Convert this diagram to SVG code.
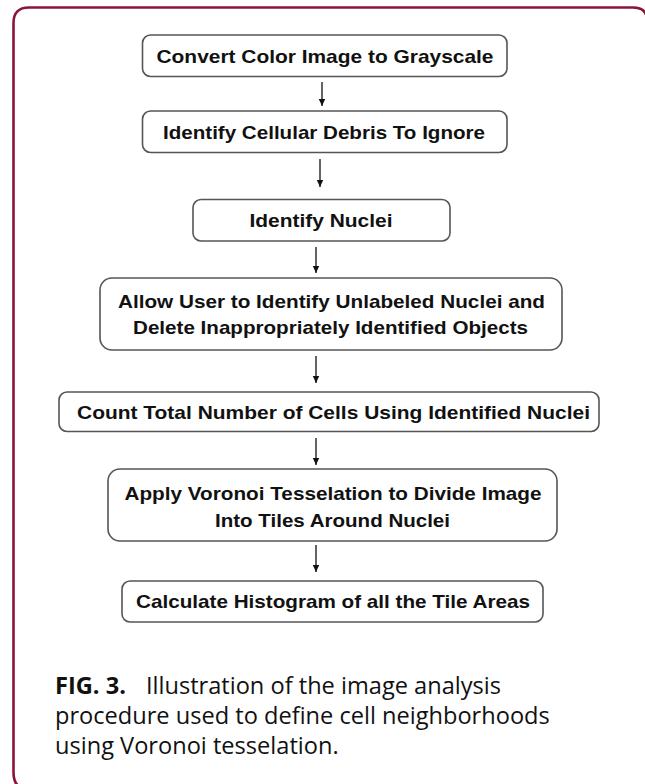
<svg xmlns="http://www.w3.org/2000/svg" width="645" height="784" viewBox="0 0 645 784">
  <defs>
    <marker id="head" markerWidth="8" markerHeight="8" refX="7" refY="4" orient="auto" markerUnits="userSpaceOnUse">
      <path d="M0,0.8 L7,4 L0,7.2 Z" fill="#111"/>
    </marker>
  </defs>
  <style>
    .box { fill: #fff; stroke: #555; stroke-width: 1.6; }
    .lbl { font-family: "Liberation Sans", Arial, sans-serif; font-weight: bold; font-size: 19px; fill: #111; text-anchor: middle; }
    .conn { stroke: #111; stroke-width: 1.3; fill: none; marker-end: url(#head); }
    .cap { font-family: "Open Sans", "Noto Sans", sans-serif; font-size: 23.6px; fill: #111; }
    .capb { font-weight: bold; }
  </style>

  <rect width="645" height="784" fill="#fff"/>

  <!-- frame -->
  <path d="M13.5,772 L13.5,23 Q13.5,7.5 29,7.5 L633,7.5 Q647.5,7.5 647.5,22 L647.5,800" fill="none" stroke="#8a1538" stroke-width="2.6"/>
  <path d="M13.5,772 Q13.5,790 30,790" fill="none" stroke="#8a1538" stroke-width="2.6"/>

  <!-- connectors -->
  <g id="connectors">
    <line class="conn" x1="322" y1="82" x2="322" y2="106"/>
    <line class="conn" x1="320" y1="159" x2="320" y2="187"/>
    <line class="conn" x1="316" y1="247" x2="316" y2="273"/>
    <line class="conn" x1="316" y1="356" x2="316" y2="383"/>
    <line class="conn" x1="316" y1="438" x2="316" y2="465"/>
    <line class="conn" x1="316" y1="545" x2="316" y2="572"/>
  </g>

  <g id="n1">
    <rect class="box" x="142.5" y="35" width="364.5" height="41.5" rx="8"/>
    <text class="lbl" x="325" y="62.5" textLength="337" lengthAdjust="spacingAndGlyphs">Convert Color Image to Grayscale</text>
  </g>
  <g id="n2">
    <rect class="box" x="142.5" y="111" width="364.5" height="41.5" rx="8"/>
    <text class="lbl" x="324" y="138.5" textLength="322" lengthAdjust="spacingAndGlyphs">Identify Cellular Debris To Ignore</text>
  </g>
  <g id="n3">
    <rect class="box" x="193" y="199.5" width="257" height="41.5" rx="8"/>
    <text class="lbl" x="321" y="227" textLength="143" lengthAdjust="spacingAndGlyphs">Identify Nuclei</text>
  </g>
  <g id="n4">
    <rect class="box" x="100" y="278" width="462" height="72" rx="12"/>
    <text class="lbl" x="331.5" y="308" textLength="427" lengthAdjust="spacingAndGlyphs">Allow User to Identify Unlabeled Nuclei and</text>
    <text class="lbl" x="330.5" y="334" textLength="395" lengthAdjust="spacingAndGlyphs">Delete Inappropriately Identified Objects</text>
  </g>
  <g id="n5">
    <rect class="box" x="59" y="392" width="540" height="39.5" rx="8"/>
    <text class="lbl" x="333.5" y="419" textLength="513" lengthAdjust="spacingAndGlyphs">Count Total Number of Cells Using Identified Nuclei</text>
  </g>
  <g id="n6">
    <rect class="box" x="108" y="469" width="449" height="72" rx="12"/>
    <text class="lbl" x="333" y="500" textLength="417" lengthAdjust="spacingAndGlyphs">Apply Voronoi Tesselation to Divide Image</text>
    <text class="lbl" x="332.5" y="527" textLength="235" lengthAdjust="spacingAndGlyphs">Into Tiles Around Nuclei</text>
  </g>
  <g id="n7">
    <rect class="box" x="122" y="581" width="421" height="41" rx="8"/>
    <text class="lbl" x="333" y="608" textLength="394" lengthAdjust="spacingAndGlyphs">Calculate Histogram of all the Tile Areas</text>
  </g>

  <!-- caption -->
  <text class="cap" x="55" y="694"><tspan class="capb">FIG. 3.</tspan><tspan dx="20">Illustration of the image analysis</tspan></text>
  <text class="cap" x="55" y="724">procedure used to define cell neighborhoods</text>
  <text class="cap" x="55" y="754">using Voronoi tesselation.</text>
</svg>
